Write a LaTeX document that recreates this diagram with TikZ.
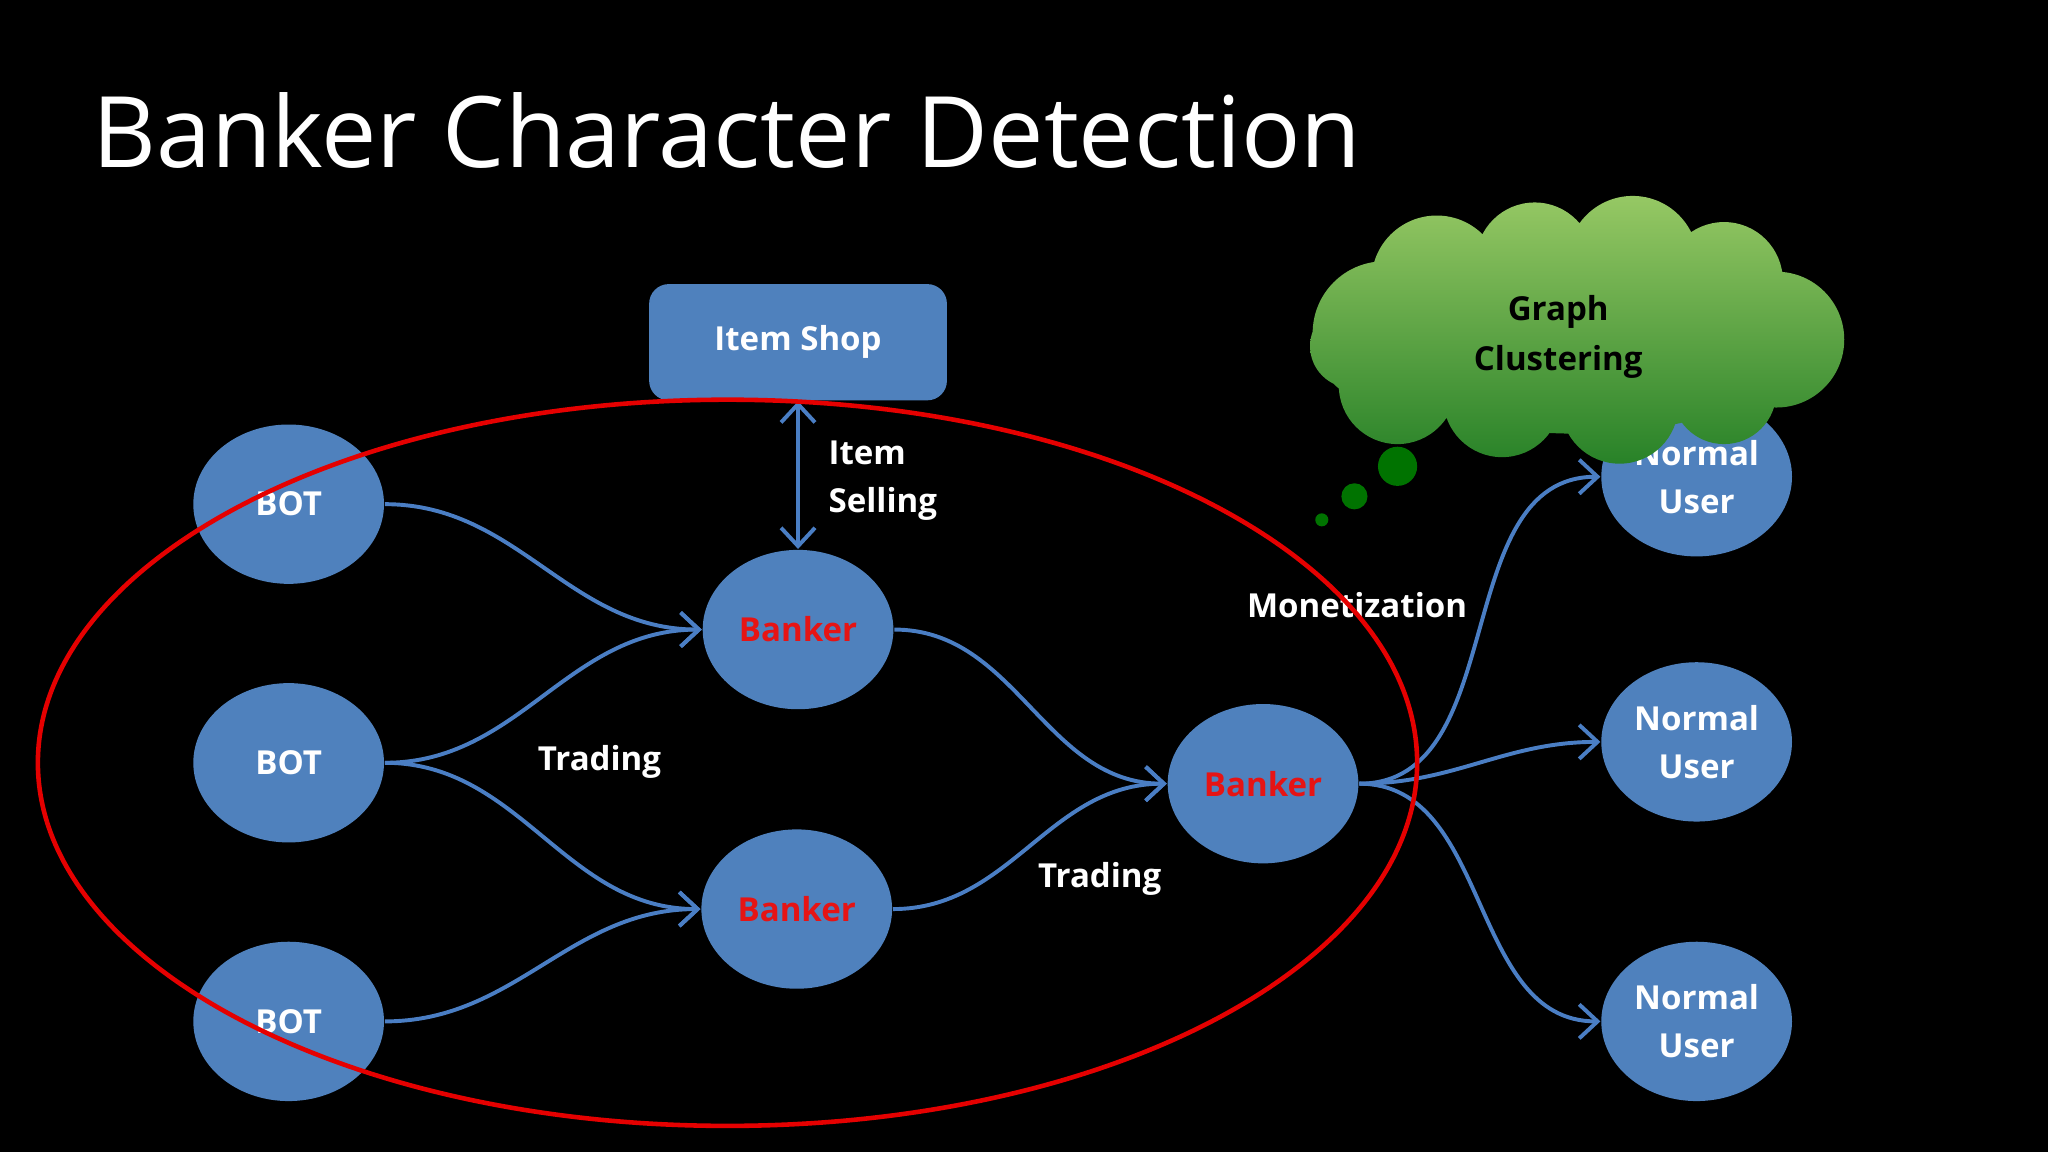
\documentclass[tikz,border=0pt]{standalone}
\usepackage{fontspec}
\setmainfont{Open Sans}
\usetikzlibrary{arrows.meta,shapes.geometric}
\definecolor{nb}{HTML}{4F81BD}
\definecolor{lb}{HTML}{4A7EC4}
\begin{document}
\begin{tikzpicture}[x=0.1mm,y=-0.1mm,
  nd/.style={ellipse,fill=nb,minimum width=14.6mm,minimum height=12.2mm,inner sep=0pt,font=\fontsize{7.2pt}{10.5pt}\selectfont\bfseries,text=white,align=center},
  bk/.style={nd,text={rgb,255:red,230;green,20;blue,20}},
  con/.style={draw=lb,line width=0.3mm,-{Straight Barb[length=1.4mm,width=2.6mm]}},
  lab/.style={text=white,font=\fontsize{7.2pt}{10.5pt}\selectfont\bfseries,align=left}]
\fill[black] (0,0) rectangle (1568,882);
\useasboundingbox (0,0) rectangle (1568,882);
\node[anchor=base west,text=white,font=\fontsize{21.5pt}{26pt}\selectfont,inner sep=0pt] (title) at (70,128) {Banker Character Detection};
\node[fill=nb,rounded corners=1.5mm,minimum width=22.8mm,minimum height=8.9mm,text=white,font=\fontsize{7.2pt}{9pt}\selectfont\bfseries] (shop) at (611,262) {Item Shop};
\node[nd] (bot1) at (221,386) {BOT};
\node[nd] (bot2) at (221,584) {BOT};
\node[nd] (bot3) at (221,782) {BOT};
\node[bk] (bank1) at (611,482) {Banker};
\node[bk] (bank2) at (610,696) {Banker};
\node[bk] (bank3) at (967,600) {Banker};
\node[nd] (nu1) at (1299,365) {Normal\\User};
\node[nd] (nu2) at (1299,568) {Normal\\User};
\node[nd] (nu3) at (1299,782) {Normal\\User};
\draw[con] (bot1.east) to[out=0,in=180] (bank1.west);
\draw[con] (bot2.east) to[out=0,in=180] (bank1.west);
\draw[con] (bot2.east) to[out=0,in=180] (bank2.west);
\draw[con] (bot3.east) to[out=0,in=180] (bank2.west);
\draw[con] (bank1.east) to[out=0,in=180] (bank3.west);
\draw[con] (bank2.east) to[out=0,in=180] (bank3.west);
\draw[con] (bank3.east) to[out=0,in=180] (nu1.west);
\draw[con] (bank3.east) to[out=0,in=180] (nu2.west);
\draw[con] (bank3.east) to[out=0,in=180] (nu3.west);
\draw[con,{Straight Barb[length=1.4mm,width=2.6mm]}-{Straight Barb[length=1.4mm,width=2.6mm]}] (shop.south) -- (bank1.north);
\node[lab,anchor=west] (sell) at (622,368) {Item\\Selling};
\node[lab] (tr1) at (459,583) {Trading};
\node[lab] (tr2) at (842,673) {Trading};
\node[lab] (mon) at (1039,463) {Monetization};
\draw[red!90!black,line width=0.35mm] (557,584) ellipse [x radius=528,y radius=278];
% cloud
\shade[top color={rgb,255:red,150;green,200;blue,100},bottom color={rgb,255:red,40;green,130;blue,40}]
 (1207,262) ellipse [x radius=170,y radius=70]
 (1060,255) circle [radius=55] (1100,215) circle [radius=50] (1175,200) circle [radius=45]
 (1250,200) circle [radius=50] (1320,215) circle [radius=45] (1360,260) circle [radius=52]
 (1320,300) circle [radius=40] (1240,310) circle [radius=45] (1150,305) circle [radius=45]
 (1070,295) circle [radius=45] (1035,265) circle [radius=32];
\fill[green!45!black] (1070,357) circle [radius=15] (1037,380) circle [radius=10] (1012,398) circle [radius=5];
\node[font=\fontsize{7.2pt}{11pt}\selectfont\bfseries,align=center] (gc) at (1193,258) {Graph\\Clustering};
\end{tikzpicture}
\end{document}
